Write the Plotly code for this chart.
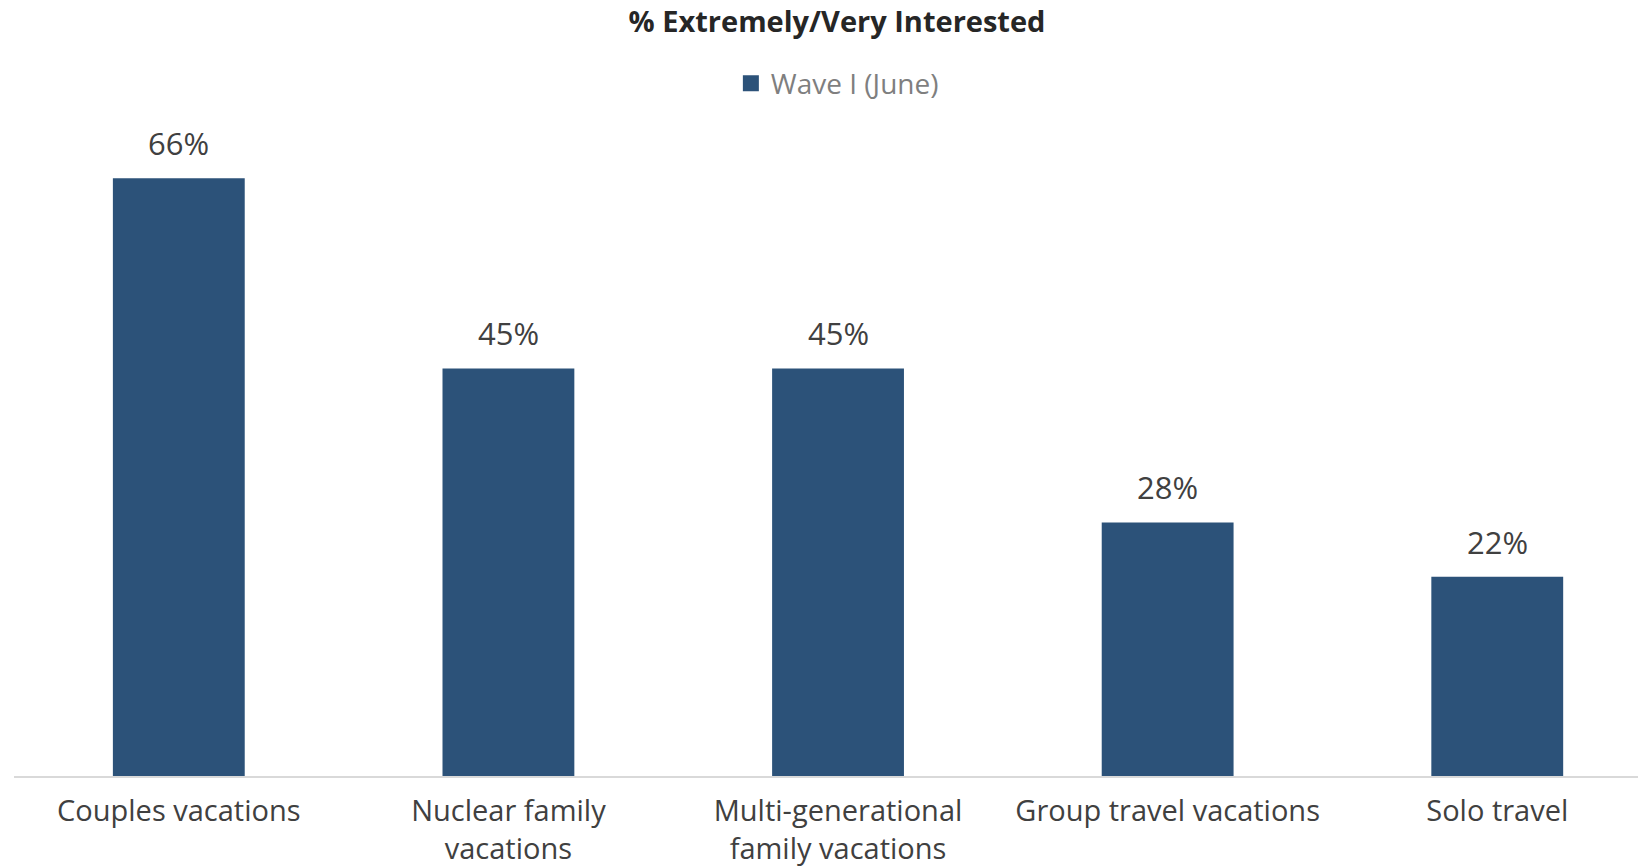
import plotly.graph_objects as go

categories = [
    "Couples vacations",
    "Nuclear family<br>vacations",
    "Multi-generational<br>family vacations",
    "Group travel vacations",
    "Solo travel",
]
values = [66, 45, 45, 28, 22]
series_name = "Wave I (June)"
chart_title = "% Extremely/Very Interested"

BAR_COLOR = "#2C5279"
TEXT_COLOR = "#404040"
FONT = "Open Sans"

fig = go.Figure()
fig.add_trace(go.Bar(
    x=categories,
    y=values,
    name=series_name,
    marker=dict(color=BAR_COLOR, line=dict(width=0)),
    showlegend=False,
))
# legend entry with a larger square swatch
fig.add_trace(go.Scatter(
    x=[None], y=[None], mode="markers", name=series_name,
    marker=dict(symbol="square", size=16, color=BAR_COLOR),
    showlegend=True,
))

for cat, val in zip(categories, values):
    fig.add_annotation(
        x=cat, y=val, text=f"{val}%",
        xref="x", yref="y",
        showarrow=False, yanchor="bottom", yshift=12,
        font=dict(family=FONT, size=31, color=TEXT_COLOR),
    )

fig.update_layout(
    width=1638, height=868,
    margin=dict(l=14, r=0, t=142, b=92, autoexpand=False),
    paper_bgcolor="white", plot_bgcolor="white",
    bargap=0.6,
    title=dict(
        text=f"<b>{chart_title}</b>",
        x=0.511, xanchor="center", y=0.975, yanchor="middle",
        font=dict(family=FONT, size=29, color="#262626"),
    ),
    legend=dict(
        orientation="h", x=0.507, xanchor="center", y=1.092, yanchor="middle",
        font=dict(family=FONT, size=28, color="#7F7F7F"),
        itemwidth=30,
    ),
    xaxis=dict(
        range=[-0.5, 4.427],
        automargin=False,
        showline=True, linecolor="#D9D9D9", linewidth=2,
        showgrid=False, ticks="", zeroline=False,
        ticklabelstandoff=8,
        tickfont=dict(family=FONT, size=29, color=TEXT_COLOR),
    ),
    yaxis=dict(
        range=[0, 70], visible=False, showgrid=False, zeroline=False,
        automargin=False,
    ),
)

fig.write_html("out.html")
